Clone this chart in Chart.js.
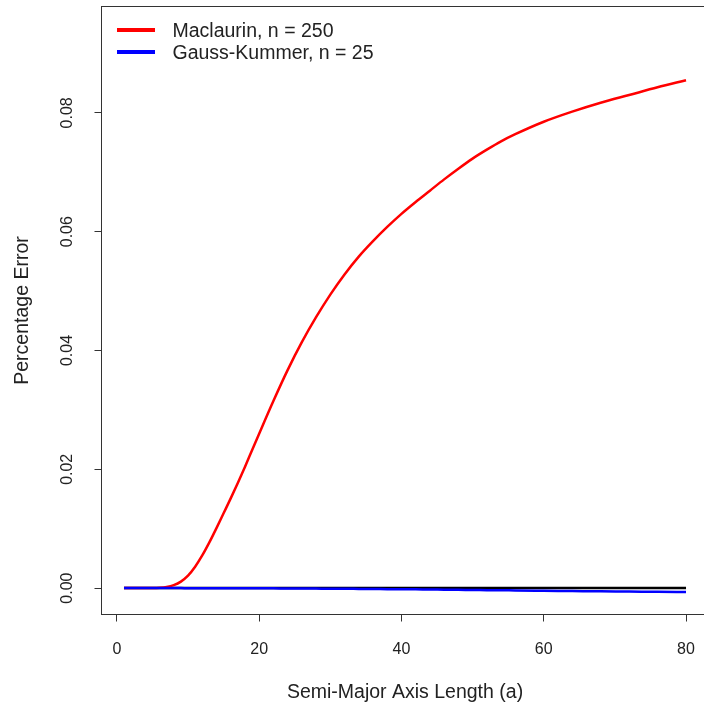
<!DOCTYPE html>
<html>
<head>
<meta charset="utf-8">
<script src="https://cdn.jsdelivr.net/npm/chart.js@4.4.0/dist/chart.umd.min.js"></script>
<style>
  html, body { margin: 0; padding: 0; background: #ffffff; overflow: hidden; width: 704px; height: 708px; }
  #wrap { position: relative; width: 704px; height: 708px; overflow: hidden; }
  #c { position: absolute; left: 0; top: 0; }
</style>
</head>
<body>
<div id="wrap"><canvas id="c" width="712" height="708"></canvas></div>
<script>
// Semi-major axis lengths (a) at which the errors were evaluated
const semiMajor = [1, 3, 5, 6, 7, 8, 9, 10, 11, 12, 13, 14, 15, 16, 17, 18, 19, 20,
  22, 24, 26, 28, 30, 32, 34, 36, 38, 40, 42, 44, 46, 48, 50, 52, 54, 56, 60, 64, 68, 72, 76, 80];

// Percentage error of the Maclaurin series, n = 250
const maclaurinErr = [0, 0, 0.00001, 0.00005, 0.00018, 0.0005, 0.0011, 0.0021, 0.0036,
  0.0055, 0.0077, 0.0101, 0.0126, 0.0151, 0.0177, 0.0204, 0.0232, 0.0260,
  0.0315, 0.0367, 0.0414, 0.0456, 0.0494, 0.0528, 0.0558, 0.0584, 0.0608, 0.0630,
  0.0650, 0.0669, 0.0688, 0.0706, 0.0723, 0.0738, 0.0752, 0.0764,
  0.0785, 0.0802, 0.0817, 0.0830, 0.0843, 0.0855];

// Percentage error of the Gauss-Kummer series, n = 25
const gaussKummerErr = [0, 0, 0, 0, 0, 0, 0, -0.00001, -0.00001, -0.00001, -0.00001,
  -0.00002, -0.00002, -0.00002, -0.00002, -0.00003, -0.00003, -0.00003,
  -0.00004, -0.00005, -0.00006, -0.00008, -0.0001, -0.00011, -0.00013, -0.00015,
  -0.00017, -0.00019, -0.00021, -0.00024, -0.00026, -0.00029, -0.00031, -0.00034,
  -0.00036, -0.00039, -0.00044, -0.00049, -0.00054, -0.00058, -0.00062, -0.00065];

// Zero-error reference line
const zeroLineA = [1, 80];
const zeroLineErr = [0, 0];

// Axis ticks and labels
const xTicks = [0, 20, 40, 60, 80];
const yTicks = [0, 0.02, 0.04, 0.06, 0.08];
const yTickLabels = ['0.00', '0.02', '0.04', '0.06', '0.08'];
const seriesNames = ['Maclaurin, n = 250', 'Gauss-Kummer, n = 25'];
const seriesColors = ['#ff0000', '#0000ff'];

const FONT = '"Liberation Sans", Arial, Helvetica, sans-serif';
const INK = '#222222';

const toPoints = (xs, ys) => xs.map((x, i) => ({ x: x, y: ys[i] }));

// Frame, rotated y tick labels and the in-plot legend
const framePlugin = {
  id: 'framePlugin',
  afterDraw(chart) {
    const { ctx, chartArea: a, scales } = chart;
    const y = scales.y;
    ctx.save();
    ctx.strokeStyle = '#333333';
    ctx.lineWidth = 1;
    ctx.strokeRect(a.left, a.top, a.right - a.left, a.bottom - a.top);

    ctx.fillStyle = INK;
    ctx.font = '16px ' + FONT;
    ctx.textAlign = 'center';
    ctx.textBaseline = 'alphabetic';
    yTicks.forEach((v, i) => {
      const py = y.getPixelForValue(v);
      ctx.save();
      ctx.translate(71.5, py);
      ctx.rotate(-Math.PI / 2);
      ctx.fillText(yTickLabels[i], 0, 0);
      ctx.restore();
    });

    ctx.font = '19.5px ' + FONT;
    ctx.textAlign = 'left';
    seriesNames.forEach((name, i) => {
      const ly = 30 + i * 22;
      ctx.strokeStyle = seriesColors[i];
      ctx.lineWidth = 4;
      ctx.beginPath();
      ctx.moveTo(117, ly);
      ctx.lineTo(155, ly);
      ctx.stroke();
      ctx.fillStyle = INK;
      ctx.fillText(name, 172.5, ly + 7);
    });
    ctx.restore();
  }
};

new Chart(document.getElementById('c'), {
  type: 'line',
  data: {
    datasets: [
      {
        label: seriesNames[1],
        data: toPoints(semiMajor, gaussKummerErr),
        borderColor: seriesColors[1],
        borderWidth: 2.5,
        pointRadius: 0,
        cubicInterpolationMode: 'monotone',
        order: 0
      },
      {
        label: seriesNames[0],
        data: toPoints(semiMajor, maclaurinErr),
        borderColor: seriesColors[0],
        borderWidth: 2.5,
        pointRadius: 0,
        cubicInterpolationMode: 'monotone',
        order: 1
      },
      {
        label: 'zero',
        data: toPoints(zeroLineA, zeroLineErr),
        borderColor: '#000000',
        borderWidth: 2.5,
        pointRadius: 0,
        order: 2
      }
    ]
  },
  options: {
    responsive: false,
    animation: false,
    devicePixelRatio: 1,
    // the plot frame runs just past the visible right edge
    layout: { padding: { top: 6.5, right: 3.5, left: 0, bottom: 0 } },
    plugins: { legend: { display: false }, tooltip: { enabled: false } },
    scales: {
      x: {
        type: 'linear',
        min: -2.16,
        max: 83.16,
        afterBuildTicks: (s) => { s.ticks = xTicks.map(v => ({ value: v })); },
        afterFit: (s) => { s.height = 93.5; s.paddingLeft = 0; s.paddingRight = 0; },
        grid: { drawOnChartArea: false, drawTicks: true, tickLength: 7, color: '#333333', lineWidth: 1 },
        border: { display: false },
        ticks: {
          color: INK,
          font: { family: FONT, size: 16 },
          padding: 18.5,
          maxRotation: 0,
          callback: (v) => String(v)
        },
        title: {
          display: true,
          text: 'Semi-Major Axis Length (a)',
          color: INK,
          font: { family: FONT, size: 19.5 },
          padding: { top: 0, bottom: 3.8 }
        }
      },
      y: {
        type: 'linear',
        min: -0.00444,
        max: 0.0979,
        afterBuildTicks: (s) => { s.ticks = yTicks.map(v => ({ value: v })); },
        afterFit: (s) => { s.width = 101.5; s.paddingTop = 0; s.paddingBottom = 0; },
        grid: { drawOnChartArea: false, drawTicks: true, tickLength: 7, color: '#333333', lineWidth: 1 },
        border: { display: false },
        ticks: { display: false },
        title: {
          display: true,
          text: 'Percentage Error',
          color: INK,
          font: { family: FONT, size: 19.5 },
          padding: { top: 11, bottom: 0 }
        }
      }
    }
  },
  plugins: [framePlugin]
});
</script>
</body>
</html>
